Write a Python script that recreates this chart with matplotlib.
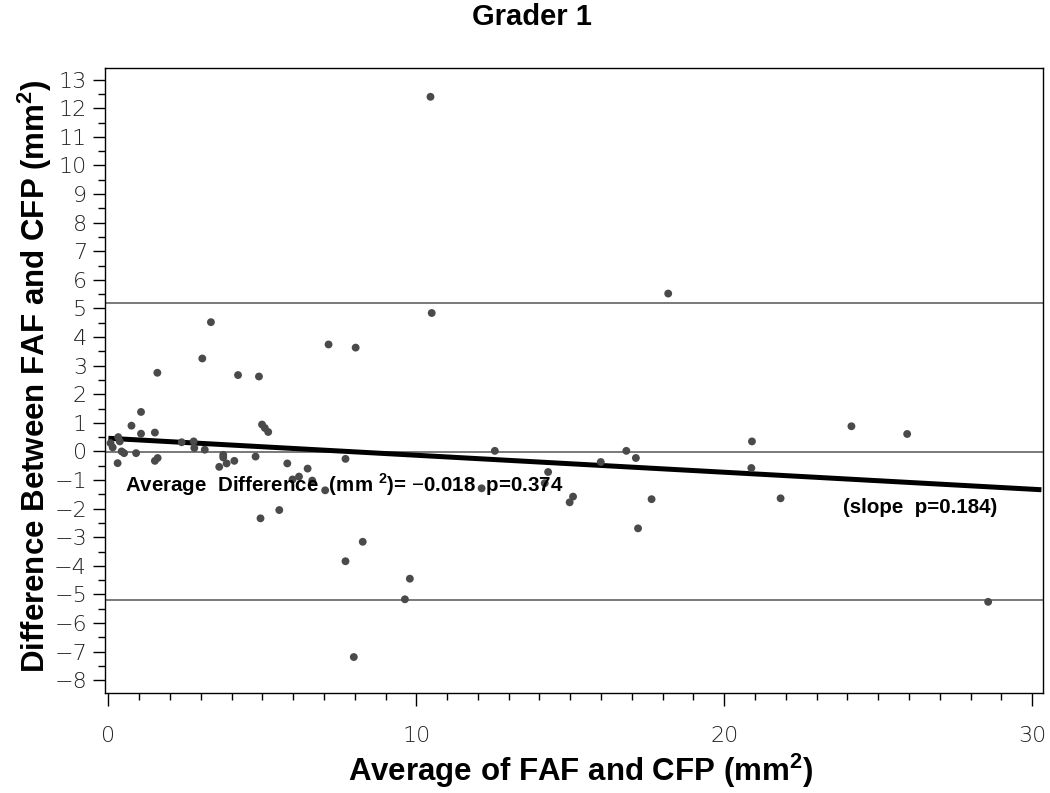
import matplotlib
matplotlib.use("Agg")
import matplotlib.pyplot as plt
from matplotlib.ticker import MultipleLocator
import numpy as np

plt.rcParams['mathtext.fontset'] = 'custom'
plt.rcParams['mathtext.rm'] = 'Liberation Sans'
plt.rcParams['mathtext.bf'] = 'Liberation Sans:bold'

# average of FAF and CFP (mm2)
avg = [0.07, 0.14, 0.32, 0.37, 0.43, 0.51, 0.30, 0.75, 0.90, 1.06, 1.06, 1.51, 1.51, 1.60,
       1.59, 2.38, 2.77, 2.79, 3.05, 3.13, 3.33, 3.60, 3.73, 3.73, 3.84, 4.09, 4.21, 4.78,
       4.89, 4.94, 4.99, 5.08, 5.19, 5.55, 5.81, 5.98, 6.19, 6.47, 6.62, 7.04, 7.15, 7.70,
       7.70, 7.97, 8.03, 8.26, 9.63, 9.79, 10.46, 10.50,
       12.12, 12.55, 14.17, 14.28, 14.98, 15.09, 15.99, 16.82, 17.13, 17.20, 17.64, 18.18,
       20.88, 20.90, 21.83, 24.13, 25.94, 28.57]
# difference FAF - CFP (mm2)
diff = [0.29, 0.14, 0.50, 0.35, 0.00, -0.06, -0.41, 0.90, -0.06, 1.38, 0.62, 0.66, -0.33, -0.23,
        2.75, 0.32, 0.35, 0.12, 3.25, 0.06, 4.52, -0.54, -0.12, -0.21, -0.42, -0.33, 2.67, -0.18,
        2.62, -2.34, 0.94, 0.82, 0.68, -2.05, -0.42, -0.98, -0.88, -0.60, -1.02, -1.36, 3.74, -0.26,
        -3.84, -7.19, 3.63, -3.16, -5.17, -4.45, 12.40, 4.84,
        -1.29, 0.02, -1.11, -0.72, -1.78, -1.58, -0.37, 0.02, -0.23, -2.69, -1.67, 5.52,
        -0.58, 0.35, -1.64, 0.88, 0.61, -5.26]

mean_diff = -0.018
loa = [5.2, -5.2]
fit_x = [0, 30.3]
fit_y = [0.46, 0.46 - 0.0594 * 30.3]

fig = plt.figure(figsize=(10.5, 7.93), dpi=100)
ax = fig.add_axes([0.1, 0.126, 0.893, 0.788])

ax.axhline(mean_diff, color='#555555', lw=1.1, zorder=1)
for v in loa:
    ax.axhline(v, color='#555555', lw=1.1, zorder=1)
ax.plot(fit_x, fit_y, color='black', lw=3.6, solid_capstyle='butt', zorder=2)
ax.scatter(avg, diff, s=32, color='#4a4a4a', edgecolors='none', zorder=3)

ax.set_xlim(-0.11, 30.34)
ax.set_ylim(-8.45, 13.4)

ax.xaxis.set_major_locator(MultipleLocator(10))
ax.xaxis.set_minor_locator(MultipleLocator(1))
ax.yaxis.set_major_locator(MultipleLocator(1))
ax.yaxis.set_minor_locator(MultipleLocator(0.5))
ax.tick_params(axis='both', which='major', length=9, width=1, direction='out')
ax.tick_params(axis='both', which='minor', length=5, width=1, direction='out')
ax.tick_params(axis='x', which='major', pad=15)
ax.tick_params(axis='y', which='major', pad=4)
ax.set_yticks(np.arange(-8, 14, 1))
ax.set_yticklabels([str(v).replace('-', '\u2212') for v in range(-8, 14)])
for lab in ax.get_xticklabels() + ax.get_yticklabels():
    lab.set_family('DejaVu Sans')
    lab.set_fontsize(16)
    lab.set_fontweight('light')
    lab.set_color('#222222')

for sp in ax.spines.values():
    sp.set_linewidth(1.0)

lbl_font = dict(family='Liberation Sans', weight='bold', size=22.5)
fig.text(0.553, 0.028, r'Average of FAF and CFP (mm$^{\mathbf{2}}$)',
         ha='center', va='center', **lbl_font)
fig.text(0.033, 0.526, r'Difference Between FAF and CFP (mm$^{\mathbf{2}}$)',
         ha='center', va='center', rotation=90, **lbl_font)
fig.text(0.507, 0.979, 'Grader 1', ha='center', va='center',
         family='Liberation Sans', weight='bold', size=21)

ax.text(0.54, -1.15, r'Average  Difference  (mm $^{\mathbf{2}}$)= $-$0.018  p=0.374',
        ha='left', va='center', family='Liberation Sans', weight='bold', size=14.8)
ax.text(23.85, -1.96, '(slope  p=0.184)', ha='left', va='center',
        family='Liberation Sans', weight='bold', size=14.8)

fig.savefig('out.png', dpi=100)
